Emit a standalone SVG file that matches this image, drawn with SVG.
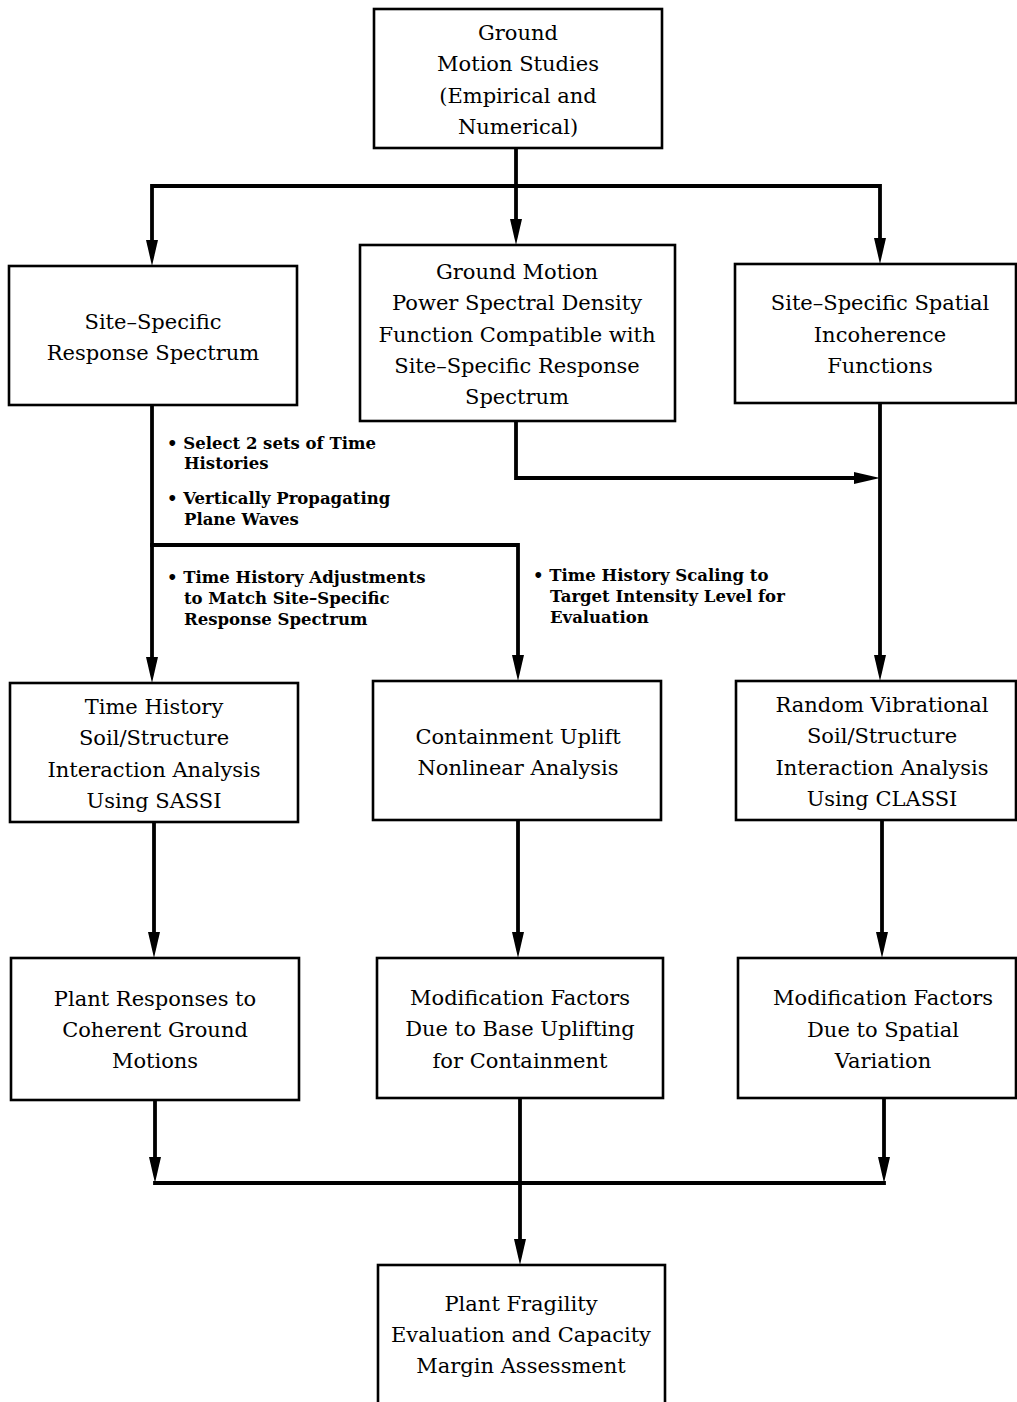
<svg xmlns="http://www.w3.org/2000/svg" width="1017" height="1402" viewBox="0 0 1017 1402">
  <style>
    .box { fill: #fff; stroke: #000; stroke-width: 2.6; }
    .lbl { font-family: "DejaVu Serif", "Liberation Serif", serif; font-size: 21px; text-anchor: middle; fill: #000; }
    .note { font-family: "DejaVu Serif", "Liberation Serif", serif; font-size: 16.5px; font-weight: bold; fill: #000; }
    .wire { fill: none; stroke: #000; stroke-width: 3.8; stroke-linecap: square; }
  </style>
  <defs>
    <marker id="ah" viewBox="0 0 26 12" refX="0" refY="6" markerWidth="26" markerHeight="12" markerUnits="userSpaceOnUse" orient="auto">
      <path d="M0,0 L26,6 L0,12 Z" fill="#000"/>
    </marker>
  </defs>
  <rect width="1017" height="1402" fill="#fff"/>

  <!-- connectors -->
  <g id="connectors">
    <path class="wire" d="M516,148 V219" marker-end="url(#ah)"/>
    <path class="wire" d="M516,186 H152 V240" marker-end="url(#ah)"/>
    <path class="wire" d="M516,186 H880 V238" marker-end="url(#ah)"/>
    <path class="wire" d="M516,421 V478 H854" marker-end="url(#ah)"/>
    <path class="wire" d="M880,403 V655" marker-end="url(#ah)"/>
    <path class="wire" d="M152,405 V657" marker-end="url(#ah)"/>
    <path class="wire" d="M152,545 H518 V655" marker-end="url(#ah)"/>
    <path class="wire" d="M154,822 V932" marker-end="url(#ah)"/>
    <path class="wire" d="M518,820 V932" marker-end="url(#ah)"/>
    <path class="wire" d="M882,820 V932" marker-end="url(#ah)"/>
    <path class="wire" d="M155,1100 V1157" marker-end="url(#ah)"/>
    <path class="wire" d="M884,1098 V1157" marker-end="url(#ah)"/>
    <path class="wire" d="M155,1183 H884"/>
    <path class="wire" d="M520,1098 V1239" marker-end="url(#ah)"/>
  </g>

  <!-- connector notes -->
  <g id="notes">
    <text class="note" x="167" y="449">• Select 2 sets of Time</text>
    <text class="note" x="184" y="469">Histories</text>
    <text class="note" x="167" y="504">• Vertically Propagating</text>
    <text class="note" x="184" y="525">Plane Waves</text>
    <text class="note" x="167" y="583">• Time History Adjustments</text>
    <text class="note" x="184" y="604">to Match Site–Specific</text>
    <text class="note" x="184" y="625">Response Spectrum</text>
    <text class="note" x="533" y="581">• Time History Scaling to</text>
    <text class="note" x="550" y="602">Target Intensity Level for</text>
    <text class="note" x="550" y="623">Evaluation</text>
  </g>

  <g id="ground-motion-studies">
    <rect class="box" x="374" y="9" width="288" height="139"/>
    <text class="lbl" x="518" y="40">Ground</text>
    <text class="lbl" x="518" y="71">Motion Studies</text>
    <text class="lbl" x="518" y="103">(Empirical and</text>
    <text class="lbl" x="518" y="134">Numerical)</text>
  </g>

  <g id="site-response-spectrum">
    <rect class="box" x="9" y="266" width="288" height="139"/>
    <text class="lbl" x="153" y="329">Site–Specific</text>
    <text class="lbl" x="153" y="360">Response Spectrum</text>
  </g>

  <g id="psd-function">
    <rect class="box" x="360" y="245" width="315" height="176"/>
    <text class="lbl" x="517" y="279">Ground Motion</text>
    <text class="lbl" x="517" y="310">Power Spectral Density</text>
    <text class="lbl" x="517" y="342">Function Compatible with</text>
    <text class="lbl" x="517" y="373">Site–Specific Response</text>
    <text class="lbl" x="517" y="404">Spectrum</text>
  </g>

  <g id="incoherence-functions">
    <rect class="box" x="735" y="264" width="281" height="139"/>
    <text class="lbl" x="880" y="310">Site–Specific Spatial</text>
    <text class="lbl" x="880" y="342">Incoherence</text>
    <text class="lbl" x="880" y="373">Functions</text>
  </g>

  <g id="sassi-analysis">
    <rect class="box" x="10" y="683" width="288" height="139"/>
    <text class="lbl" x="154" y="714">Time History</text>
    <text class="lbl" x="154" y="745">Soil/Structure</text>
    <text class="lbl" x="154" y="777">Interaction Analysis</text>
    <text class="lbl" x="154" y="808">Using SASSI</text>
  </g>

  <g id="uplift-analysis">
    <rect class="box" x="373" y="681" width="288" height="139"/>
    <text class="lbl" x="518" y="744">Containment Uplift</text>
    <text class="lbl" x="518" y="775">Nonlinear Analysis</text>
  </g>

  <g id="classi-analysis">
    <rect class="box" x="736" y="681" width="280" height="139"/>
    <text class="lbl" x="882" y="712">Random Vibrational</text>
    <text class="lbl" x="882" y="743">Soil/Structure</text>
    <text class="lbl" x="882" y="775">Interaction Analysis</text>
    <text class="lbl" x="882" y="806">Using CLASSI</text>
  </g>

  <g id="coherent-responses">
    <rect class="box" x="11" y="958" width="288" height="142"/>
    <text class="lbl" x="155" y="1006">Plant Responses to</text>
    <text class="lbl" x="155" y="1037">Coherent Ground</text>
    <text class="lbl" x="155" y="1068">Motions</text>
  </g>

  <g id="uplift-factors">
    <rect class="box" x="377" y="958" width="286" height="140"/>
    <text class="lbl" x="520" y="1005">Modification Factors</text>
    <text class="lbl" x="520" y="1036">Due to Base Uplifting</text>
    <text class="lbl" x="520" y="1068">for Containment</text>
  </g>

  <g id="spatial-factors">
    <rect class="box" x="738" y="958" width="278" height="140"/>
    <text class="lbl" x="883" y="1005">Modification Factors</text>
    <text class="lbl" x="883" y="1037">Due to Spatial</text>
    <text class="lbl" x="883" y="1068">Variation</text>
  </g>

  <g id="fragility-evaluation">
    <rect class="box" x="378" y="1265" width="287" height="150"/>
    <text class="lbl" x="521" y="1311">Plant Fragility</text>
    <text class="lbl" x="521" y="1342">Evaluation and Capacity</text>
    <text class="lbl" x="521" y="1373">Margin Assessment</text>
  </g>
</svg>
